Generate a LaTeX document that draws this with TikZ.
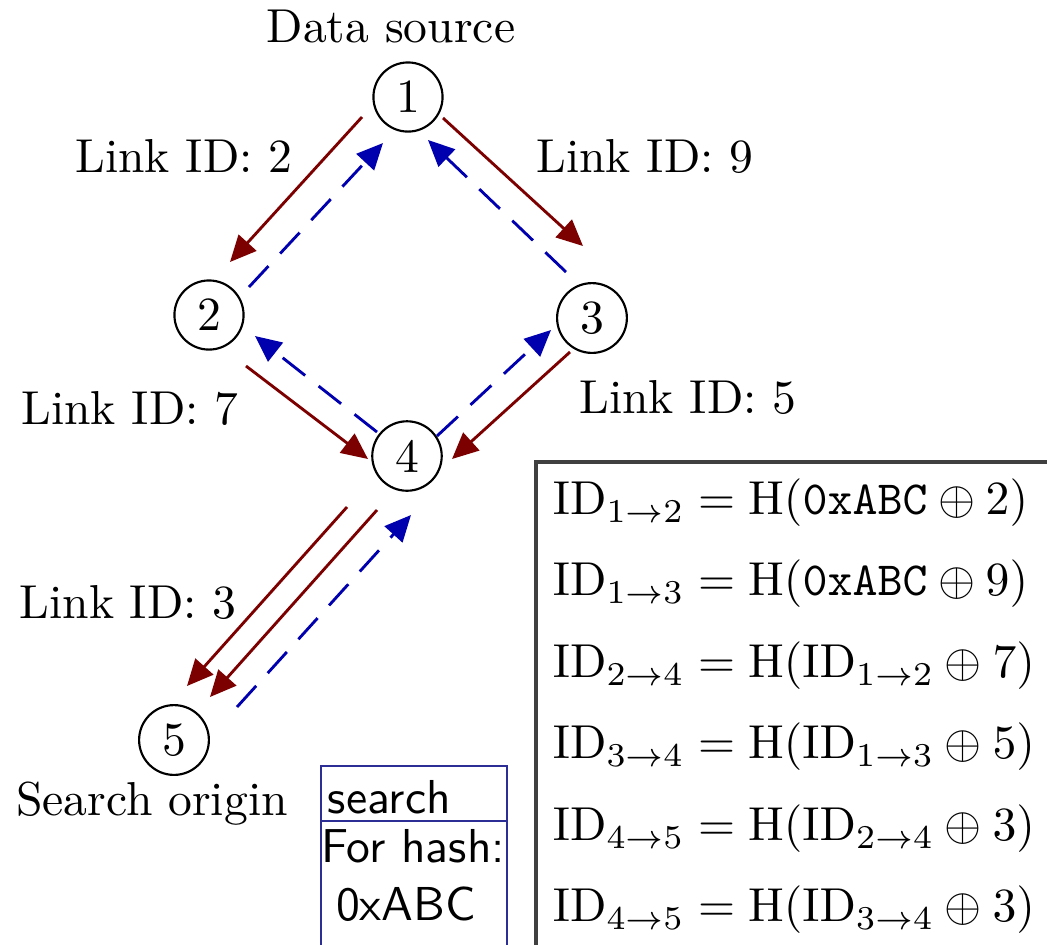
\documentclass[tikz,border=0pt]{standalone}
\usetikzlibrary{arrows.meta}
\definecolor{fwdred}{RGB}{125,0,0}
\definecolor{backblue}{RGB}{0,0,175}
\definecolor{boxblue}{RGB}{45,45,150}
\tikzset{
  peer/.style={circle, draw, line width=0.45pt, inner sep=2.2pt, font=\normalsize},
  lbl/.style={anchor=base, inner sep=0pt},
  fwd/.style={draw=fwdred, line width=0.6pt, -{Triangle[length=5.5pt,width=5pt]}},
  back/.style={draw=backblue, line width=0.6pt, dash pattern=on 6pt off 3.6pt,
    -{Triangle[length=5.5pt,width=5pt]}},
  eqn/.style={anchor=west, inner sep=0pt}
}
\begin{document}
\begin{tikzpicture}[x=0.21pt, y=-0.21pt]
  \useasboundingbox (0,0) rectangle (1047,944);
  \clip (0,0) rectangle (1047,944);

  % peers
  \node[peer] (n1) at (408,97)  {1};
  \node[peer] (n2) at (209,315) {2};
  \node[peer] (n3) at (592,318) {3};
  \node[peer] (n4) at (407,456) {4};
  \node[peer] (n5) at (174,740) {5};

  % captions
  \node[lbl] (src)  at (391,42)  {Data source};
  \node[lbl] (org)  at (152,815) {Search origin};
  \node[lbl] (l2)   at (184,172) {Link ID: 2};
  \node[lbl] (l9)   at (645,172) {Link ID: 9};
  \node[lbl] (l7)   at (130,424) {Link ID: 7};
  \node[lbl] (l5)   at (688,413) {Link ID: 5};
  \node[lbl] (l3)   at (128,618) {Link ID: 3};

  % search messages towards the data source
  \draw[fwd] ([shift={(-46,20)}]n1.center) -- ([shift={(21,-53)}]n2.center);
  \draw[fwd] ([shift={(35,21)}]n1.center)  -- ([shift={(-9,-72)}]n3.center);
  \draw[fwd] ([shift={(37,51)}]n2.center)  -- ([shift={(-39,3)}]n4.center);
  \draw[fwd] ([shift={(-22,34)}]n3.center) -- ([shift={(45,3)}]n4.center);
  \draw[fwd] ([shift={(-60,51)}]n4.center) -- ([shift={(13,-54)}]n5.center);
  \draw[fwd] ([shift={(-30,54)}]n4.center) -- ([shift={(36,-43)}]n5.center);

  % replies back along the links
  \draw[back] ([shift={(40,-28)}]n2.center)  -- ([shift={(-25,46)}]n1.center);
  \draw[back] ([shift={(-26,-46)}]n3.center) -- ([shift={(20,43)}]n1.center);
  \draw[back] ([shift={(-30,-24)}]n4.center) -- ([shift={(46,21)}]n2.center);
  \draw[back] ([shift={(30,-20)}]n4.center)  -- ([shift={(-41,12)}]n3.center);
  \draw[back] ([shift={(63,-33)}]n5.center)  -- ([shift={(4,59)}]n4.center);

  % link identifier table
  \draw[line width=0.7pt, draw=black!75] (536,1000) -- (536,462) -- (1100,462);
  \node[eqn] (e1) at (552,503) {$\mathrm{ID}_{1\to2} = \mathrm{H}(\mathtt{0xABC} \oplus 2)$};
  \node[eqn] (e2) at (552,584) {$\mathrm{ID}_{1\to3} = \mathrm{H}(\mathtt{0xABC} \oplus 9)$};
  \node[eqn] (e3) at (552,666) {$\mathrm{ID}_{2\to4} = \mathrm{H}(\mathrm{ID}_{1\to2} \oplus 7)$};
  \node[eqn] (e4) at (552,747) {$\mathrm{ID}_{3\to4} = \mathrm{H}(\mathrm{ID}_{1\to3} \oplus 5)$};
  \node[eqn] (e5) at (552,829) {$\mathrm{ID}_{4\to5} = \mathrm{H}(\mathrm{ID}_{2\to4} \oplus 3)$};
  \node[eqn] (e6) at (552,910) {$\mathrm{ID}_{4\to5} = \mathrm{H}(\mathrm{ID}_{3\to4} \oplus 3)$};

  % search message box
  \draw[draw=boxblue, line width=0.6pt] (321,1000) -- (321,766) -- (507,766) -- (507,1000);
  \draw[draw=boxblue, line width=0.6pt] (321,821) -- (507,821);
  \node[lbl, anchor=base west, font=\sffamily] (msg) at (327,813) {search};
  \node[lbl, font=\sffamily] (hq) at (413,862) {For hash:};
  \node[lbl, font=\sffamily] (hv) at (406,920) {0xABC};
\end{tikzpicture}
\end{document}
